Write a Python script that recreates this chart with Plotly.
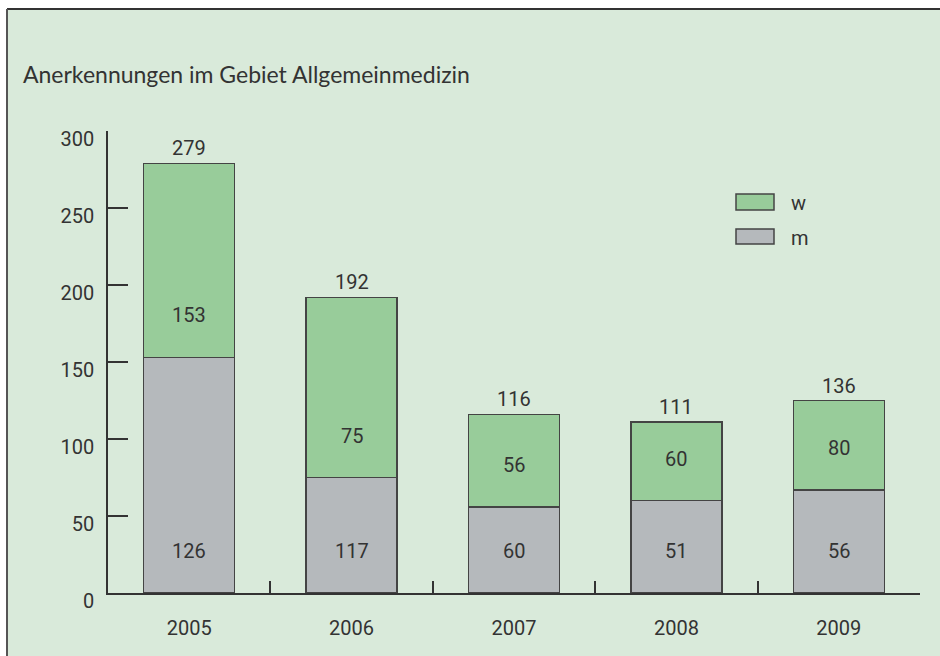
import plotly.graph_objects as go

# ---- data ----
years = ["2005", "2006", "2007", "2008", "2009"]
series_names = ["w", "m"]
m_heights = [153, 75, 56, 60, 67]      # drawn height of grey segment
w_heights = [126, 117, 60, 51, 58]     # drawn height of green segment
m_labels = ["126", "117", "60", "51", "56"]
w_labels = ["153", "75", "56", "60", "80"]
total_labels = ["279", "192", "116", "111", "136"]
y_ticks = [0, 50, 100, 150, 200, 250, 300]
title_text = "Anerkennungen im Gebiet Allgemeinmedizin"

# ---- style ----
W, H = 940, 656
L, R, T, B = 108, 20, 131, 63
BG = "#d9eada"
GREEN = "#98cc9a"
GREY = "#b5b9bc"
EDGE = "#444444"
TXT = "#333333"
FONT = "Roboto"
TITLE_FONT = "Lato, Roboto"

pw = W - L - R
ph = H - T - B


def px(x):
    return (x - L) / pw


def py(y):
    return (H - B - y) / ph


fig = go.Figure()
fig.add_trace(go.Bar(x=years, y=m_heights, name=series_names[1],
                     marker=dict(color=GREY, line=dict(color=EDGE, width=1.5)),
                     showlegend=False, hoverinfo="skip"))
fig.add_trace(go.Bar(x=years, y=w_heights, name=series_names[0],
                     marker=dict(color=GREEN, line=dict(color=EDGE, width=1.5)),
                     showlegend=False, hoverinfo="skip"))

ann = []
for i, yr in enumerate(years):
    ann.append(dict(x=i, y=0, text=m_labels[i], showarrow=False, yshift=42,
                    yanchor="middle", font=dict(size=20, color=TXT, family=FONT)))
    ann.append(dict(x=i, y=m_heights[i], text=w_labels[i], showarrow=False, yshift=42,
                    yanchor="middle", font=dict(size=20, color=TXT, family=FONT)))
    ann.append(dict(x=i, y=m_heights[i] + w_heights[i], text=total_labels[i], showarrow=False,
                    yshift=15, yanchor="middle", font=dict(size=20, color=TXT, family=FONT)))

# title
ann.append(dict(xref="paper", yref="paper", x=px(21), y=py(74), xanchor="left", yanchor="middle",
                text=title_text, showarrow=False,
                font=dict(size=23, color=TXT, family=TITLE_FONT)))

shapes = [
    dict(type="rect", xref="paper", yref="paper", x0=px(7), x1=px(945), y0=py(660), y1=py(9),
         fillcolor=BG, line=dict(width=0), layer="below"),
    dict(type="line", xref="paper", yref="paper", x0=px(7), x1=px(945), y0=py(9), y1=py(9),
         line=dict(color="#333333", width=2)),
    dict(type="line", xref="paper", yref="paper", x0=px(7), x1=px(7), y0=py(660), y1=py(9),
         line=dict(color="#555555", width=2)),
]
# legend (manual)
leg = [(series_names[0], GREEN, 194, 210), (series_names[1], GREY, 229, 244)]
for name, col, t, b in leg:
    shapes.append(dict(type="rect", xref="paper", yref="paper", x0=px(736), x1=px(774),
                       y0=py(b), y1=py(t), fillcolor=col, line=dict(color=EDGE, width=1.5)))
    ann.append(dict(xref="paper", yref="paper", x=px(789), y=py((t + b) / 2 + 1), xanchor="left",
                    yanchor="middle", text=name, showarrow=False,
                    font=dict(size=20, color=TXT, family=FONT)))

fig.update_layout(
    width=W, height=H,
    margin=dict(l=L, r=R, t=T, b=B),
    paper_bgcolor="white",
    plot_bgcolor="rgba(0,0,0,0)",
    barmode="stack",
    bargap=0.44,
    annotations=ann,
    shapes=shapes,
    font=dict(family=FONT, color=TXT, size=20),
)
fig.update_xaxes(type="category", showline=True, linecolor=TXT, linewidth=1.5,
                 ticks="inside", ticklen=12, tickwidth=1.5, tickcolor=TXT,
                 tickson="boundaries", showgrid=False, zeroline=False,
                 tickfont=dict(size=20, color=TXT, family=FONT), ticklabelstandoff=16,
                 range=[-0.5, 4.5], fixedrange=True)
fig.update_yaxes(range=[0, 300], tickvals=y_ticks, showline=True, linecolor=TXT, linewidth=1.5,
                 ticks="inside", ticklen=20, tickwidth=1.5, tickcolor=TXT,
                 showgrid=False, zeroline=False, ticklabelshift=8, ticklabelstandoff=8,
                 tickfont=dict(size=20, color=TXT, family=FONT), fixedrange=True)

fig.write_html("out.html")
